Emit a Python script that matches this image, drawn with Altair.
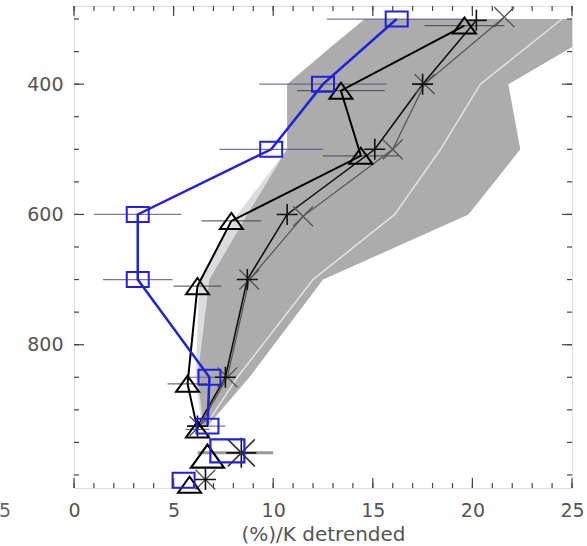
import altair as alt
import pandas as pd

# ---------------- data ----------------
# envelope (grey band), vertices of its visible outline by pressure
env_p = [300, 343, 400, 500, 600, 700, 850, 925]
env_left = [14.6, 12.9, 10.7, 10.7, 8.2, 6.3, 6.1, 6.4]
env_left_dark = [14.6, 12.9, 10.7, 10.7, 8.7, 6.8, 6.2, 6.5]
env_right = [25.0, 25.0, 21.8, 22.4, 19.8, 12.5, 8.8, 6.7]

# inner light line
mean_p = [300, 400, 500, 600, 700, 850, 925]
mean_x = [24.5, 20.4, 18.4, 16.1, 12.0, 8.2, 6.6]

# blue squares
sq_p = [300, 400, 500, 600, 700, 850, 925]
sq_x = [16.2, 12.5, 9.9, 3.2, 3.2, 6.8, 6.7]
sq_err = [3.5, 3.2, 2.6, 2.2, 1.75, 1.0, 0.9]

# black triangles
tri_p = [310, 410, 510, 610, 710, 860, 930]
tri_x = [19.6, 13.4, 14.4, 7.9, 6.2, 5.7, 6.2]
tri_err = [2.0, 2.2, 1.9, 1.5, 1.2, 1.0, 0.6]

# black plus series
pl_p = [302, 400, 500, 600, 700, 850, 925]
pl_x = [20.2, 17.5, 15.1, 10.7, 8.7, 7.6, 6.2]

# grey X series
xx_p = [297, 400, 500, 603, 700, 850, 925]
xx_x = [21.6, 17.6, 16.0, 11.5, 8.8, 7.7, 6.3]

# extra (unconnected) points near the surface
big_sq = (7.7, 963)
big_tri = (6.7, 971)
big_ast = (8.4, 966)
big_ast_bar = (6.2, 10.0)
low_sq = (5.5, 1008)
low_tri = (5.8, 1015)
low_ast = (6.6, 1007)

x_ticks_major = [0, 5, 10, 15, 20, 25]
x_ticks_minor = list(range(0, 26))
y_ticks_major = [400, 600, 800]
y_ticks_minor = list(range(300, 1001, 50))

# ---------------- build ----------------
W, H = 498, 482
FONT = "DejaVu Sans"
xs = alt.Scale(domain=[0, 25], nice=False, zero=False)
ys = alt.Scale(domain=[280, 1020], reverse=True, nice=False, zero=False)

XAX = alt.Axis(values=x_ticks_major, ticks=False, domain=False, grid=False,
               labelPadding=13, labelFontSize=19, labelFont=FONT, labelColor="#555",
               titleFont=FONT, titleFontSize=20, titleFontWeight="normal",
               titleColor="#555", titlePadding=4, labelFlush=False)
YAX = alt.Axis(values=y_ticks_major, ticks=False, domain=False, grid=False,
               labelPadding=11, labelFontSize=19, labelFont=FONT, labelColor="#555")

def X(f="x"):
    return alt.X(f + ":Q", scale=xs, axis=XAX, title="(%)/K detrended", stack=None)

def Y():
    return alt.Y("p:Q", scale=ys, axis=YAX, title=None)

env = pd.DataFrame({"p": env_p, "l": env_left, "ld": env_left_dark, "r": env_right})
mean = pd.DataFrame({"p": mean_p, "m": mean_x})
sq = pd.DataFrame({"p": sq_p, "x": sq_x})
sq["lo"] = sq["x"] - pd.Series(sq_err)
sq["hi"] = sq["x"] + pd.Series(sq_err)
tri = pd.DataFrame({"p": tri_p, "x": tri_x})
tri["lo"] = tri["x"] - pd.Series(tri_err)
tri["hi"] = tri["x"] + pd.Series(tri_err)
pl = pd.DataFrame({"p": pl_p, "x": pl_x})
xx = pd.DataFrame({"p": xx_p, "x": xx_x})

SQ_PATH = "M-1,-0.68L1,-0.68L1,0.68L-1,0.68Z"
TRI_PATH = "M0,-0.7L1,0.7L-1,0.7Z"
PLUS_PATH = "M-1,0L1,0M0,-1L0,1"
X_PATH = "M-0.9,-0.9L0.9,0.9M-0.9,0.9L0.9,-0.9"

band_light = alt.Chart(env).mark_area(orient="horizontal", color="#dadcdf",
                                      opacity=1).encode(y=Y(), x=X("l"), x2="r:Q")
band = alt.Chart(env).mark_area(orient="horizontal", color="#acacac",
                                opacity=1).encode(y=Y(), x=X("ld"), x2="r:Q")
mean_line = alt.Chart(mean).mark_line(color="#e2e2e2", strokeWidth=1.5).encode(
    y=Y(), x=X("m"), order=alt.Order("p:Q"))

sq_bars = alt.Chart(sq).mark_rule(color="#55558a", strokeWidth=1.2, opacity=0.8).encode(
    y=Y(), x=X("lo"), x2="hi:Q")
tri_bars = alt.Chart(tri).mark_rule(color="#444444", strokeWidth=1.2, opacity=0.8).encode(
    y=Y(), x=X("lo"), x2="hi:Q")
ast_bar_df = pd.DataFrame({"p": [big_ast[1]], "lo": [big_ast_bar[0]], "hi": [big_ast_bar[1]]})
ast_bar = alt.Chart(ast_bar_df).mark_rule(color="#999999", strokeWidth=3).encode(
    y=Y(), x=X("lo"), x2="hi:Q")

xx_line = alt.Chart(xx).mark_line(color="#555555", strokeWidth=1.2).encode(
    y=Y(), x=X(), order=alt.Order("p:Q"))
pl_line = alt.Chart(pl).mark_line(color="#111111", strokeWidth=1.6).encode(
    y=Y(), x=X(), order=alt.Order("p:Q"))
tri_line = alt.Chart(tri).mark_line(color="#000000", strokeWidth=2).encode(
    y=Y(), x=X(), order=alt.Order("p:Q"))
sq_line = alt.Chart(sq).mark_line(color="#2020dd", strokeWidth=2.5).encode(
    y=Y(), x=X(), order=alt.Order("p:Q"))

def pts(df, path, size, color, sw=1.8):
    return alt.Chart(df).mark_point(shape=path, size=size, filled=False, color=color,
                                    strokeWidth=sw, opacity=1, clip=False).encode(y=Y(), x=X())

xx_pts = pd.concat([xx, pd.DataFrame({"x": [low_ast[0]], "p": [low_ast[1]]})])
pl_pts = pd.concat([pl, pd.DataFrame({"x": [low_ast[0]], "p": [low_ast[1]]})])
big_ast_df = pd.DataFrame({"x": [big_ast[0]], "p": [big_ast[1]]})
sq_pts = pd.concat([sq[["x", "p"]], pd.DataFrame({"x": [low_sq[0]], "p": [low_sq[1]]})])
tri_pts = pd.concat([tri[["x", "p"]], pd.DataFrame({"x": [low_tri[0]], "p": [low_tri[1]]})])
big_sq_df = pd.DataFrame({"x": [big_sq[0]], "p": [big_sq[1]]})
big_tri_df = pd.DataFrame({"x": [big_tri[0]], "p": [big_tri[1]]})

markers = [
    pts(xx_pts, X_PATH, 484, "#555555", 1.4),
    pts(pl_pts, PLUS_PATH, 441, "#111111", 1.6),
    pts(big_ast_df, PLUS_PATH, 900, "#111111", 1.6),
    pts(big_ast_df, X_PATH, 900, "#333333", 1.6),
    pts(tri_pts, TRI_PATH, 529, "#000000", 2),
    pts(big_tri_df, TRI_PATH, 1089, "#000000", 2.2),
    pts(sq_pts, SQ_PATH, 484, "#2020dd", 2),
    pts(big_sq_df, SQ_PATH, 1156, "#2020dd", 2.2),
]

# inward ticks on all four sides
xmaj = pd.DataFrame({"x": x_ticks_major})
xmin = pd.DataFrame({"x": x_ticks_minor})
ymaj = pd.DataFrame({"p": y_ticks_major})
ymin = pd.DataFrame({"p": y_ticks_minor})
TC = "#444444"
ticks = []
for df, L in [(xmaj, 10), (xmin, 5)]:
    ticks.append(alt.Chart(df).mark_rule(color=TC, strokeWidth=1.2).encode(
        x=X(), y=alt.value(H), y2=alt.value(H - L)))
    ticks.append(alt.Chart(df).mark_rule(color=TC, strokeWidth=1.2).encode(
        x=X(), y=alt.value(0), y2=alt.value(L)))
for df, L in [(ymaj, 10), (ymin, 5)]:
    ticks.append(alt.Chart(df).mark_rule(color=TC, strokeWidth=1.2).encode(
        y=Y(), x=alt.value(0), x2=alt.value(L)))
    ticks.append(alt.Chart(df).mark_rule(color=TC, strokeWidth=1.2).encode(
        y=Y(), x=alt.value(W), x2=alt.value(W - L)))

frag = alt.Chart(pd.DataFrame({"t": ["5"]})).mark_text(
    font=FONT, fontSize=19, color="#666666", align="center", baseline="middle").encode(
    x=alt.value(-69), y=alt.value(505), text="t:N")

chart = alt.layer(
    band_light, band, mean_line, sq_bars, tri_bars, ast_bar,
    xx_line, pl_line, tri_line, sq_line, *markers, *ticks, frag
).properties(
    width=W, height=H,
    padding={"left": 74, "top": 6, "right": 15, "bottom": 58},
    autosize=alt.AutoSizeParams(type="none"),
).configure_view(stroke="#444444", strokeWidth=1.5).configure(background="white")

chart.save("out.html", embed_options={"renderer": "svg", "actions": False})
